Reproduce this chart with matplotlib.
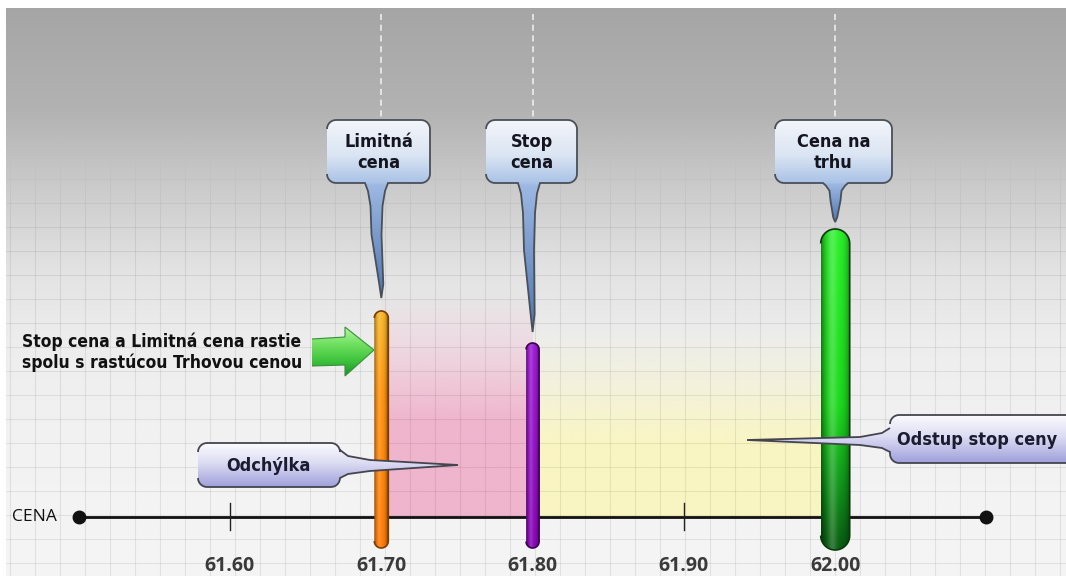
import numpy as np
import matplotlib
matplotlib.use('Agg')
import matplotlib.pyplot as plt
from matplotlib.path import Path
from matplotlib.patches import PathPatch, Rectangle
from matplotlib.collections import LineCollection
from matplotlib import font_manager as fm
from matplotlib.colors import to_rgb

# ---------------- data ----------------
tick_values = [61.60, 61.70, 61.80, 61.90, 62.00]
tick_labels = ['61.60', '61.70', '61.80', '61.90', '62.00']
tick_marks = [61.60, 61.90]
axis_range = [61.50, 62.10]
limit_price = 61.70
stop_price = 61.80
market_price = 62.00
bar_prices = [limit_price, stop_price, market_price]
callout_texts = ['Limitná\ncena', 'Stop\ncena', 'Cena na\ntrhu']
gap_labels = ['Odchýlka', 'Odstup stop ceny']
note_text = 'Stop cena a Limitná cena rastie\nspolu s rastúcou Trhovou cenou'
axis_name = 'CENA'

# ---------------- layout ----------------
W, H = 1066, 576
PX = 1513.0                      # pixels per price unit
X0 = 61.60 - 230 / PX
def xd(px):
    return X0 + np.asarray(px, dtype=float) / PX
def xp(price):
    return (price - X0) * PX

names = {f.name for f in fm.fontManager.ttflist}
NARROW = 'Liberation Sans Narrow' if 'Liberation Sans Narrow' in names else 'DejaVu Sans'
NSTRETCH = 'normal' if NARROW != 'DejaVu Sans' else 'condensed'
TICKF = 'Open Sans' if 'Open Sans' in names else 'DejaVu Sans'

fig = plt.figure(figsize=(W / 100, H / 100), dpi=100)
ax = fig.add_axes([0, 0, 1, 1])
ax.set_xlim(X0, X0 + W / PX)
ax.set_ylim(H, 0)
ax.set_autoscale_on(False)
ax.axis('off')

def grad_img(ys_stops, cols, ny=256):
    y = np.linspace(0, 1, ny)
    arr = np.zeros((ny, 1, len(cols[0])))
    for k in range(len(cols[0])):
        arr[:, 0, k] = np.interp(y, ys_stops, [c[k] for c in cols])
    return arr

# background gradient
bg = grad_img([0, 10 / H, 110 / H, 190 / H, 270 / H, 340 / H, 450 / H, 1],
              [(v, v, v) for v in [0.65, 0.65, 0.70, 0.80, 0.89, 0.93, 0.95, 0.96]])
ax.imshow(bg, extent=[xd(0), xd(W), H, 0], aspect='auto', zorder=0, interpolation='bilinear')
ax.add_patch(Rectangle((xd(0), 0), xd(W) - xd(0), 8, color='white', zorder=0.5, lw=0))
ax.add_patch(Rectangle((xd(0), 0), xd(6) - xd(0), H, color='white', zorder=0.5, lw=0))

# grid (fades in below the grey top band)
segs, cols = [], []
for x in range(10, W, 25):
    for y in range(150, H, 6):
        a = 0.075 * min(1.0, (y - 150) / 90)
        segs.append([(xd(x), y), (xd(x), y + 6)])
        cols.append((0, 0, 0, a))
for y in range(155, H, 24):
    a = 0.075 * min(1.0, (y - 150) / 90)
    segs.append([(xd(6), y), (xd(W), y)])
    cols.append((0, 0, 0, a))
ax.add_collection(LineCollection(segs, colors=cols, lw=0.8, zorder=1.2))

# shaded gap regions
def region(x_lo, x_hi, ytop, yfull, ybot, color):
    c = to_rgb(color)
    n = 256
    y = np.linspace(ytop, ybot, n)
    a = np.clip((y - ytop) / (yfull - ytop), 0, 1) ** 1.2 * 0.95
    arr = np.zeros((n, 1, 4))
    arr[:, 0, :3] = c
    arr[:, 0, 3] = a
    ax.imshow(arr, extent=[x_lo, x_hi, ybot, ytop], aspect='auto', zorder=1, interpolation='bilinear')

AXIS_Y = 517
region(limit_price, stop_price, 290, 420, AXIS_Y, '#efb2cb')
region(stop_price, market_price, 325, 445, AXIS_Y, '#faf6c0')

# axis line
ax.plot(axis_range, [AXIS_Y, AXIS_Y], color='#111111', lw=2, zorder=3, solid_capstyle='butt')
ax.plot(axis_range, [AXIS_Y, AXIS_Y], 'o', color='#111111', ms=9, zorder=3)
for t in tick_marks:
    ax.plot([t, t], [503, 530], color='#222222', lw=1, zorder=3)
for v, lab in zip(tick_values, tick_labels):
    ax.text(v, 566, lab, ha='center', va='center', fontsize=14, family=TICKF,
            fontweight='bold', color='#3a3a3a', zorder=5)
ax.text(xd(12), AXIS_Y, axis_name, ha='left', va='center', fontsize=12.5, family=TICKF,
        color='#111111', zorder=5)

# ---------- bars ----------
def capsule(price, top, bot, wpx):
    r = wpx / 2
    cx = xp(price)
    t1 = np.linspace(np.pi, 0, 25)
    t2 = np.linspace(0, -np.pi, 25)
    xs = np.concatenate([cx + r * np.cos(t1), cx + r * np.cos(t2)])
    ys = np.concatenate([top + r - r * np.sin(t1), bot - r - r * np.sin(t2)])
    return Path(np.column_stack([xd(xs), ys]), closed=False)

def draw_bar(price, top, bot, wpx, stops, cols, edge, hi_amt=0.3, z=4):
    path = capsule(price, top, bot, wpx)
    nx, ny = 40, 256
    v = grad_img(stops, [to_rgb(c) for c in cols], ny)[:, 0, :]
    u = np.linspace(0, 1, nx)
    dark = 1 - 0.45 * np.abs(2 * u - 1) ** 3
    hi = hi_amt * np.exp(-((u - 0.38) / 0.15) ** 2)
    arr = v[:, None, :] * dark[None, :, None]
    arr = arr + (1 - arr) * hi[None, :, None]
    arr = np.clip(arr, 0, 1)
    cx = xp(price)
    im = ax.imshow(arr, extent=[xd(cx - wpx / 2), xd(cx + wpx / 2), bot, top],
                   aspect='auto', zorder=z, interpolation='bilinear')
    pp = PathPatch(path, facecolor='none', edgecolor=edge, lw=1.2, zorder=z + 0.1)
    ax.add_patch(pp)
    im.set_clip_path(pp)

BAR_BOT = 548
draw_bar(limit_price, 311, BAR_BOT, 14, [0, 0.35, 1], ['#f7b82a', '#ff9410', '#ff7a08'], '#7a3c00', 0.15)
draw_bar(stop_price, 343, BAR_BOT, 13, [0, 1], ['#a01ed6', '#8a08b8'], '#3a0050', 0.15)
draw_bar(market_price, 229, 550, 29, [0, 0.55, 0.78, 1], ['#2af02a', '#1cd81c', '#119a1a', '#075a10'], '#0a3a0a', 0.2)

# ---------- callouts ----------
def arc_pts(cx, cy, r, a0, a1, n=8):
    t = np.radians(np.linspace(a0, a1, n))
    return list(zip(cx + r * np.cos(t), cy - r * np.sin(t)))

def top_callout(price, x0, x1, y0, y1, tl, tr, tip_y, text):
    r = 9
    tipx = xp(price)
    mid = (tl + tr) / 2
    L = tip_y - y1
    pts = []
    pts += arc_pts(x0 + r, y0 + r, r, 180, 90)
    pts += arc_pts(x1 - r, y0 + r, r, 90, 0)
    pts += arc_pts(x1 - r, y1 - r, r, 0, -90)
    # tail
    pts += [(tr, y1), (tr - 3, y1 + 0.07 * L), (mid + 6, y1 + 0.2 * L), (mid + 5, y1 + 0.45 * L),
            (tipx + 2, tip_y - 0.12 * L), (tipx, tip_y), (tipx - 2, tip_y - 0.12 * L),
            (mid - 5, y1 + 0.45 * L), (mid - 6, y1 + 0.2 * L), (tl + 3, y1 + 0.07 * L), (tl, y1)]
    pts += arc_pts(x0 + r, y1 - r, r, -90, -180)
    pts = np.array(pts)
    path = Path(np.column_stack([xd(pts[:, 0]), pts[:, 1]]))
    hb = (y1 - y0) / (tip_y - y0)
    g = grad_img([0, hb * 0.55, hb, hb + 0.01, 1],
                 [to_rgb(c) for c in ['#f3f5fa', '#dbe5f3', '#a9c2e6', '#9db8e2', '#4f76b0']])
    im = ax.imshow(g, extent=[xd(x0), xd(x1), tip_y, y0], aspect='auto', zorder=6,
                   interpolation='bilinear')
    pp = PathPatch(path, facecolor='none', edgecolor='#4a4f58', lw=1.3, zorder=6.1)
    ax.add_patch(pp)
    im.set_clip_path(pp)
    ax.text(xd((x0 + x1) / 2), (y0 + y1) / 2 + 1, text, ha='center', va='center',
            fontsize=13, family=NARROW, fontstretch=NSTRETCH, fontweight='bold',
            color='#15151f', linespacing=1.15, zorder=7)
    # dashed guide above
    ax.plot([price, price], [14, y0], color='white', lw=1.1, ls=(0, (4, 3)), alpha=0.85, zorder=2)

top_callout(limit_price, 327, 430, 120, 183, 365, 388, 298, callout_texts[0])
top_callout(stop_price, 486, 577, 120, 183, 518, 540, 332, callout_texts[1])
top_callout(market_price, 775, 892, 120, 183, 823, 848, 222, callout_texts[2])

def side_callout(x0, x1, y0, y1, side, ttop, tbot, tip, text, tx):
    r = 9
    pts = []
    if side == 'right':
        pts += arc_pts(x0 + r, y0 + r, r, 180, 90)
        pts += arc_pts(x1 - r, y0 + r, r, 90, 0)
        pts += [(x1, ttop), (x1 + 8, ttop + 6), (x1 + 30, ttop + 10),
                (tip[0], tip[1]), (x1 + 30, tbot - 7), (x1 + 8, tbot - 4), (x1, tbot)]
        pts += arc_pts(x1 - r, y1 - r, r, 0, -90)
        pts += arc_pts(x0 + r, y1 - r, r, -90, -180)
        ext = [x0, tip[0]]
    else:
        pts += arc_pts(x0 + r, y0 + r, r, 180, 90)
        pts += arc_pts(x1 - r, y0 + r, r, 90, 0)
        pts += arc_pts(x1 - r, y1 - r, r, 0, -90)
        pts += arc_pts(x0 + r, y1 - r, r, -90, -180)
        pts += [(x0, tbot), (x0 - 8, tbot - 4), (x0 - 30, tbot - 7),
                (tip[0], tip[1]), (x0 - 30, ttop + 9), (x0 - 8, ttop + 5), (x0, ttop)]
        ext = [tip[0], x1]
    pts = np.array(pts)
    path = Path(np.column_stack([xd(pts[:, 0]), pts[:, 1]]))
    g = grad_img([0, 0.45, 1], [to_rgb(c) for c in ['#fbfbfe', '#dcdcf3', '#9f9fdc']])
    im = ax.imshow(g, extent=[xd(ext[0]), xd(ext[1]), y1, y0], aspect='auto', zorder=6,
                   interpolation='bilinear')
    pp = PathPatch(path, facecolor='none', edgecolor='#45454f', lw=1.3, zorder=6.1)
    ax.add_patch(pp)
    im.set_clip_path(pp)
    ax.text(xd(tx), (y0 + y1) / 2 + 1, text, ha='center', va='center', fontsize=13,
            family=NARROW, fontstretch=NSTRETCH, fontweight='bold', color='#1c1c30', zorder=7)

side_callout(198, 340, 443, 487, 'right', 450, 478, (458, 465), gap_labels[0], 268)
side_callout(890, 1075, 415, 463, 'left', 428, 452, (747, 440), gap_labels[1], 977)

# ---------- green arrow ----------
arrow_pts = np.array([(312, 339), (345, 337), (345, 327), (374, 350), (345, 376), (345, 365), (312, 366)])
apath = Path(np.column_stack([xd(arrow_pts[:, 0]), arrow_pts[:, 1]]))
ga = grad_img([0, 0.35, 0.7, 1], [to_rgb(c) for c in ['#b4f5a0', '#6fe060', '#3cc23c', '#1f8f2a']])
im = ax.imshow(ga, extent=[xd(312), xd(374), 376, 327], aspect='auto', zorder=6, interpolation='bilinear')
pa = PathPatch(apath, facecolor='none', edgecolor='#3a8f3a', lw=0.8, zorder=6.1)
ax.add_patch(pa)
im.set_clip_path(pa)

ax.text(xd(22), 352, note_text, ha='left', va='center', fontsize=12.5, family=NARROW,
        fontstretch=NSTRETCH, fontweight='bold', color='#111111', linespacing=1.2, zorder=7)

fig.savefig('out.png', dpi=100)
